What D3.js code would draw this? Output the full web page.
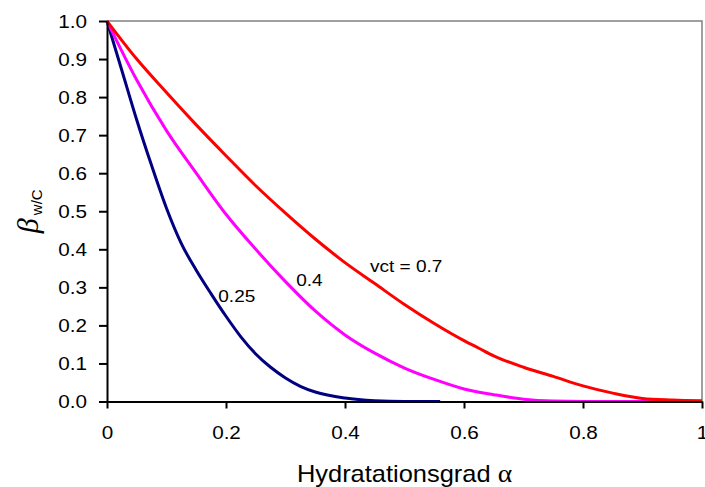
<!DOCTYPE html>
<html>
<head>
<meta charset="utf-8">
<script src="https://cdn.jsdelivr.net/npm/d3@7"></script>
<style>
  body { margin: 0; background: #fff; }
  svg { display: block; }
</style>
</head>
<body>
<svg id="chart" width="705" height="487"></svg>
<script>
// ---- data ----
const alpha025 = [0, 0.025, 0.05, 0.075, 0.1, 0.125, 0.15, 0.175, 0.2, 0.225, 0.25, 0.275, 0.3, 0.325, 0.35, 0.4, 0.45, 0.5, 0.56];
const beta025  = [1.0, 0.87, 0.74, 0.62, 0.508, 0.415, 0.345, 0.283, 0.224, 0.17, 0.125, 0.09, 0.062, 0.04, 0.025, 0.009, 0.002, 0, 0];

const alpha04 = [0, 0.05, 0.1, 0.15, 0.2, 0.25, 0.3, 0.35, 0.4, 0.45, 0.5, 0.55, 0.6, 0.65, 0.7, 0.75, 0.8, 0.9, 1.0];
const beta04  = [1.0, 0.845, 0.712, 0.6, 0.492, 0.40, 0.315, 0.238, 0.175, 0.127, 0.088, 0.058, 0.033, 0.018, 0.006, 0.001, 0, 0, 0];

const alpha07 = [0, 0.05, 0.1, 0.15, 0.2, 0.25, 0.3, 0.35, 0.4, 0.45, 0.5, 0.55, 0.6, 0.625, 0.65, 0.7, 0.75, 0.8, 0.85, 0.9, 0.95, 1.0];
const beta07  = [1.0, 0.9, 0.812, 0.727, 0.646, 0.567, 0.495, 0.427, 0.365, 0.31, 0.255, 0.205, 0.16, 0.14, 0.12, 0.09, 0.066, 0.041, 0.022, 0.008, 0.004, 0.002];

const seriesNames  = ["0.25", "0.4", "0.7"];
const seriesColors = ["#000080", "#FF00FF", "#FF0000"];

const xTicks = [0, 0.2, 0.4, 0.6, 0.8, 1];
const xTickLabels = ["0", "0.2", "0.4", "0.6", "0.8", "1"];
const yTicks = [0, 0.1, 0.2, 0.3, 0.4, 0.5, 0.6, 0.7, 0.8, 0.9, 1.0];
const yTickLabels = ["0.0", "0.1", "0.2", "0.3", "0.4", "0.5", "0.6", "0.7", "0.8", "0.9", "1.0"];

const annotTexts  = ["0.25", "0.4", "vct = 0.7"];
const annotAlpha  = [0.187, 0.318, 0.442];
const annotBeta   = [0.262, 0.304, 0.340];

// ---- layout ----
const svg = d3.select("#chart");
const mLeft = 107, mRight = 702, mTop = 21, mBottom = 401.5;
const x = d3.scaleLinear().domain([0, 1]).range([mLeft, mRight]);
const y = d3.scaleLinear().domain([0, 1]).range([mBottom, mTop]);
const stretch = 1.15;

// frame (top/right gray)
svg.append("path")
  .attr("d", `M${mLeft},${mTop}H${mRight}V${mBottom}`)
  .attr("fill", "none").attr("stroke", "#808080").attr("stroke-width", 1.5);

// series
const seriesData = [
  d3.zip(alpha025, beta025),
  d3.zip(alpha04, beta04),
  d3.zip(alpha07, beta07)
];
const line = d3.line().x(d => x(d[0])).y(d => y(d[1])).curve(d3.curveMonotoneX);
seriesData.forEach((s, i) => {
  svg.append("path")
    .datum(s)
    .attr("d", line)
    .attr("fill", "none")
    .attr("stroke", seriesColors[i])
    .attr("stroke-width", 3)
    .attr("stroke-linejoin", "round");
});

// axes
const xAxis = d3.axisBottom(x).tickValues(xTicks).tickFormat((d, i) => xTickLabels[i]).tickSize(7).tickSizeOuter(0);
const gx = svg.append("g").attr("transform", `translate(0,${mBottom})`).call(xAxis);
gx.select(".domain").attr("stroke", "#000").attr("stroke-width", 2);
gx.selectAll(".tick line").attr("stroke", "#000").attr("stroke-width", 2);
gx.selectAll(".tick text")
  .attr("y", 37.5).attr("dy", 0)
  .attr("transform", `scale(${stretch},1)`)
  .style("font-family", "Arial, 'Liberation Sans', sans-serif")
  .style("font-size", "18px").attr("fill", "#000");

const yAxis = d3.axisLeft(y).tickValues(yTicks).tickFormat((d, i) => yTickLabels[i]).tickSize(8).tickSizeOuter(0);
const gy = svg.append("g").attr("transform", `translate(${mLeft},0)`).call(yAxis);
gy.select(".domain").attr("stroke", "#000").attr("stroke-width", 2);
gy.selectAll(".tick line").attr("stroke", "#000").attr("stroke-width", 2);
gy.selectAll(".tick text")
  .attr("x", -20 / stretch).attr("dy", "0.36em")
  .attr("transform", `scale(${stretch},1)`)
  .style("font-family", "Arial, 'Liberation Sans', sans-serif")
  .style("font-size", "18px").attr("fill", "#000");

// annotations
annotTexts.forEach((t, i) => {
  svg.append("text")
    .attr("transform", `translate(${x(annotAlpha[i])},${y(annotBeta[i])}) scale(1.12,1)`)
    .style("font-family", "Arial, 'Liberation Sans', sans-serif")
    .style("font-size", "17px")
    .attr("fill", "#000")
    .text(t);
});

// x label
const xl = svg.append("text")
  .attr("transform", `translate(${(mLeft + mRight) / 2},482) scale(1.06,1)`)
  .attr("text-anchor", "middle")
  .style("font-family", "Arial, 'Liberation Sans', sans-serif")
  .style("font-size", "24px").attr("fill", "#000");
xl.append("tspan").text("Hydratationsgrad ");
xl.append("tspan").style("font-family", "'Liberation Serif', 'Times New Roman', serif").style("font-size", "26px").text("α");

// y label
const yl = svg.append("text")
  .attr("transform", `translate(38,${(mTop + mBottom) / 2}) rotate(-90)`)
  .attr("text-anchor", "middle")
  .attr("fill", "#000");
yl.append("tspan")
  .style("font-family", "'Liberation Serif', 'Times New Roman', serif")
  .style("font-style", "italic")
  .style("font-size", "30px")
  .text("β");
yl.append("tspan")
  .attr("dx", 3).attr("dy", 4)
  .style("font-family", "Arial, 'Liberation Sans', sans-serif")
  .style("font-size", "15px")
  .text("w/C");
</script>
</body>
</html>
